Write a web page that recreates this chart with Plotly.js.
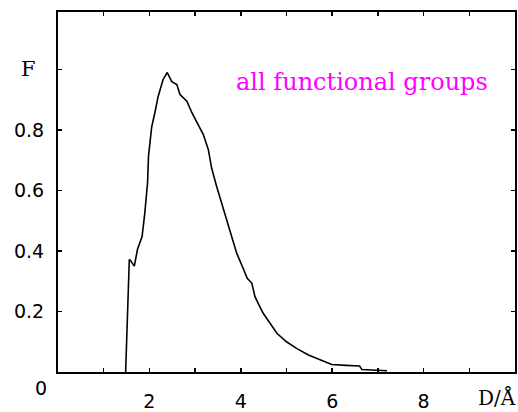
<!DOCTYPE html>
<html>
<head>
<meta charset="utf-8">
<script src="https://cdn.plot.ly/plotly-3.0.1.min.js"></script>
<style>html,body{margin:0;padding:0;background:#fff;}#chart{width:518px;height:412px;}</style>
</head>
<body>
<div id="chart"></div>
<script>
// Distance D (Å) and fraction F
const distance = [1.48, 1.49, 1.515, 1.56, 1.58, 1.67, 1.74, 1.84, 1.90, 1.96, 1.98, 2.05, 2.12, 2.19, 2.30, 2.39,
  2.49, 2.60, 2.67, 2.82, 2.93, 3.03, 3.18, 3.29, 3.36, 3.47, 3.58, 3.69, 3.80, 3.91, 4.05, 4.14, 4.24, 4.31,
  4.41, 4.49, 4.64, 4.79, 5.00, 5.22, 5.48, 5.73, 5.99, 6.30, 6.60, 6.65, 7.00, 7.20];
const fraction = [0.0, 0.046, 0.23, 0.37, 0.37, 0.35, 0.406, 0.448, 0.526, 0.626, 0.713, 0.81, 0.857, 0.91, 0.967, 0.99,
  0.96, 0.95, 0.917, 0.895, 0.857, 0.829, 0.785, 0.735, 0.675, 0.614, 0.559, 0.503, 0.448, 0.393, 0.343, 0.31, 0.294, 0.249,
  0.218, 0.194, 0.161, 0.128, 0.10, 0.078, 0.056, 0.042, 0.025, 0.022, 0.02, 0.008, 0.006, 0.004];

const xTickVals = [1, 2, 3, 4, 5, 6, 7, 8, 9];
const xTickText = ["", "2", "", "4", "", "6", "", "8", ""];
const yTickVals = [0.2, 0.4, 0.6, 0.8, 1.0];
const yTickText = ["0.2", "0.4", "0.6", "0.8", ""];
const panelLabel = "all functional groups";

const tickFont = {family: "DejaVu Sans, Arial, sans-serif", size: 19, color: "#000"};
const serif = "DejaVu Serif, Liberation Serif, serif";

const trace = {
  x: distance, y: fraction, type: "scatter", mode: "lines",
  line: {color: "#000", width: 1.6}, hoverinfo: "skip", showlegend: false
};

const layout = {
  width: 518, height: 412,
  margin: {l: 58, r: 3, t: 12, b: 40, pad: 0},
  paper_bgcolor: "#fff", plot_bgcolor: "#fff",
  xaxis: {
    range: [0, 10], tickvals: xTickVals, ticktext: xTickText,
    ticks: "inside", ticklen: 4, tickwidth: 1.5, tickcolor: "#000",
    showline: true, linecolor: "#000", linewidth: 2, mirror: "ticks",
    showgrid: false, zeroline: false, tickfont: tickFont, ticklabelstandoff: 11
  },
  yaxis: {
    range: [0, 1.19], tickvals: yTickVals, ticktext: yTickText,
    ticks: "inside", ticklen: 4, tickwidth: 1.5, tickcolor: "#000",
    showline: true, linecolor: "#000", linewidth: 2, mirror: "ticks",
    showgrid: false, zeroline: false, tickfont: tickFont, ticklabelstandoff: 8
  },
  annotations: [
    {text: panelLabel, xref: "paper", yref: "paper", x: 0.665, y: 0.805, xanchor: "center", yanchor: "middle",
     showarrow: false, font: {family: serif, size: 24, color: "#ff00ff"}},
    {text: "F", xref: "paper", x: -0.065, yref: "y", y: 1.0, xanchor: "center", yanchor: "middle",
     showarrow: false, font: {family: serif, size: 21, color: "#000"}},
    {text: "0", xref: "paper", x: -0.037, yref: "paper", y: -0.045, xanchor: "center", yanchor: "middle",
     showarrow: false, font: tickFont},
    {text: "D/Å", xref: "paper", x: 0.96, yref: "paper", y: -0.07, xanchor: "center", yanchor: "middle",
     showarrow: false, font: {family: serif, size: 20, color: "#000"}}
  ]
};

Plotly.newPlot("chart", [trace], layout, {staticPlot: true, displayModeBar: false});
</script>
</body>
</html>
